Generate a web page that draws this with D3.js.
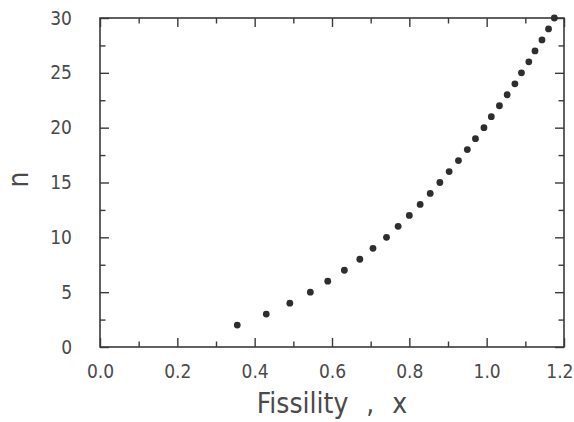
<!DOCTYPE html>
<html>
<head>
<meta charset="utf-8">
<script src="https://cdn.jsdelivr.net/npm/d3@7"></script>
<style>
  html, body { margin: 0; padding: 0; background: #fff; }
  svg { display: block; }
  text { font-family: "DejaVu Sans Condensed", "DejaVu Sans", sans-serif; font-stretch: condensed; }
</style>
</head>
<body>
<script>
// Data
const nValues = [2,3,4,5,6,7,8,9,10,11,12,13,14,15,16,17,18,19,20,21,22,23,24,25,26,27,28,29,30];
const fissility = [0.355,0.430,0.491,0.544,0.589,0.632,0.672,0.706,0.741,0.771,0.800,0.828,0.854,0.879,0.903,0.927,0.950,0.971,0.993,1.012,1.033,1.053,1.073,1.090,1.109,1.125,1.143,1.160,1.175];
const xTickValues = [0.0,0.2,0.4,0.6,0.8,1.0,1.2];
const xMinorTicks = [0.1,0.3,0.5,0.7,0.9,1.1];
const yTickValues = [0,5,10,15,20,25,30];
const yMinorTicks = [2.5,7.5,12.5,17.5,22.5,27.5];
const xLabel = "Fissility , x";
const yLabel = "n";

const W = 574, H = 422;
const margin = {left: 100, right: 10, top: 18, bottom: 75};
const x = d3.scaleLinear().domain([0, 1.2]).range([margin.left, W - margin.right]);
const y = d3.scaleLinear().domain([0, 30]).range([H - margin.bottom, margin.top]);

const svg = d3.select("body").append("svg").attr("width", W).attr("height", H);

const axisColor = "#3a3a3a";
const textColor = "#4a4a4a";
const major = 9, minor = 5.5;

function styleAxis(g) {
  g.select(".domain").remove();
  g.selectAll("line").attr("stroke", axisColor).attr("stroke-width", 1.4);
  g.selectAll("text").attr("fill", textColor).attr("font-size", 19);
}

// Bottom axis (ticks inward)
const bottom = svg.append("g").attr("transform", `translate(0,${y(0)})`)
  .call(d3.axisBottom(x).tickValues(xTickValues).tickSize(-major).tickPadding(18).tickFormat(d3.format(".1f")))
  .call(styleAxis);
// keep the last label inside the window, as in the reference
bottom.selectAll(".tick").filter(d => d === 1.2).select("text")
  .attr("text-anchor", "end").attr("x", W - 1 - x(1.2));
svg.append("g").attr("transform", `translate(0,${y(0)})`)
  .call(d3.axisBottom(x).tickValues(xMinorTicks).tickSize(-minor).tickFormat(""))
  .call(styleAxis);
// Top axis
svg.append("g").attr("transform", `translate(0,${y(30)})`)
  .call(d3.axisTop(x).tickValues(xTickValues).tickSize(-major).tickFormat(""))
  .call(styleAxis);
svg.append("g").attr("transform", `translate(0,${y(30)})`)
  .call(d3.axisTop(x).tickValues(xMinorTicks).tickSize(-minor).tickFormat(""))
  .call(styleAxis);
// Left axis
svg.append("g").attr("transform", `translate(${x(0)},0)`)
  .call(d3.axisLeft(y).tickValues(yTickValues).tickSize(-major).tickPadding(28).tickFormat(d3.format("d")))
  .call(styleAxis);
svg.append("g").attr("transform", `translate(${x(0)},0)`)
  .call(d3.axisLeft(y).tickValues(yMinorTicks).tickSize(-minor).tickFormat(""))
  .call(styleAxis);
// Right axis
svg.append("g").attr("transform", `translate(${x(1.2)},0)`)
  .call(d3.axisRight(y).tickValues(yTickValues).tickSize(-major).tickFormat(""))
  .call(styleAxis);
svg.append("g").attr("transform", `translate(${x(1.2)},0)`)
  .call(d3.axisRight(y).tickValues(yMinorTicks).tickSize(-minor).tickFormat(""))
  .call(styleAxis);

// Frame
svg.append("rect")
  .attr("x", x(0)).attr("y", y(30))
  .attr("width", x(1.2) - x(0)).attr("height", y(0) - y(30))
  .attr("fill", "none").attr("stroke", axisColor).attr("stroke-width", 1.6);

// Points
svg.append("g").selectAll("circle")
  .data(nValues.map((n, i) => ({n, f: fissility[i]})))
  .join("circle")
  .attr("cx", d => x(d.f))
  .attr("cy", d => y(d.n))
  .attr("r", 3.4)
  .attr("fill", "#2e2e2e");

// Axis labels
svg.append("text")
  .attr("x", (x(0) + x(1.2)) / 2).attr("y", 413)
  .attr("text-anchor", "middle")
  .attr("font-size", 28).attr("fill", textColor)
  .style("word-spacing", "10px")
  .text(xLabel);

svg.append("text")
  .attr("transform", `translate(28,${(y(0) + y(30)) / 2 - 3}) rotate(-90)`)
  .attr("text-anchor", "middle")
  .attr("font-size", 28).attr("fill", textColor)
  .text(yLabel);
</script>
</body>
</html>
